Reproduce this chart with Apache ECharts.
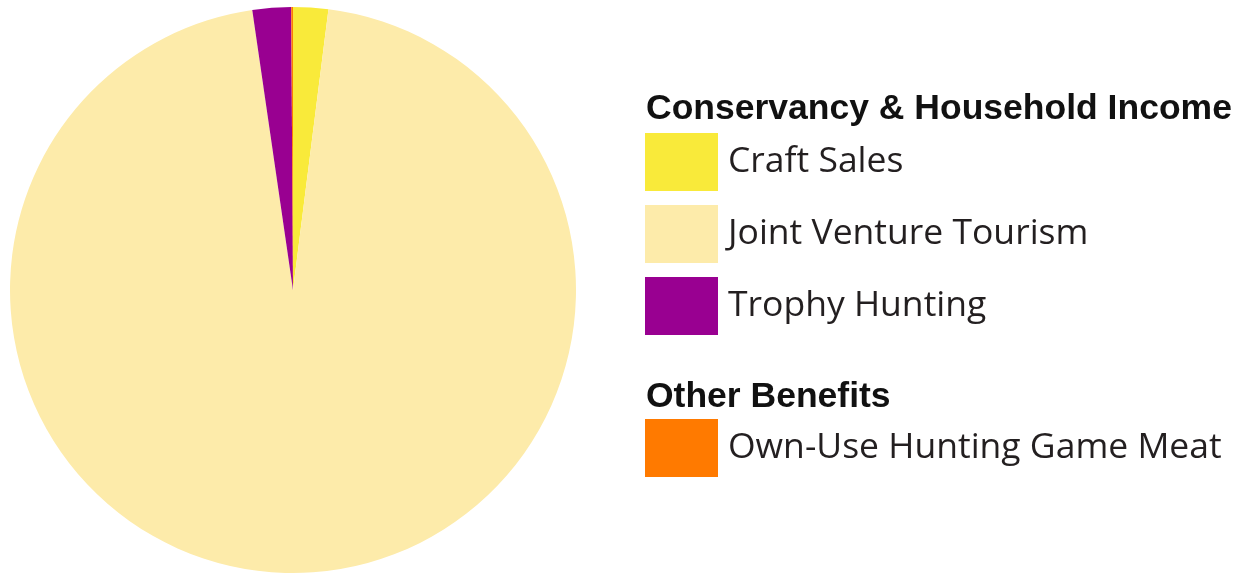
<!DOCTYPE html>
<html>
<head>
<meta charset="utf-8">
<script src="https://cdn.jsdelivr.net/npm/echarts@6/dist/echarts.min.js"></script>
<style>
html,body{margin:0;padding:0;background:#fff;}
#chart{width:1245px;height:575px;}
</style>
</head>
<body>
<div id="chart"></div>
<script>
const categories = ['Craft Sales', 'Joint Venture Tourism', 'Trophy Hunting', 'Own-Use Hunting Game Meat'];
const values = [2.0, 95.7, 2.2, 0.1];
const colors = ['#F9EA3A', '#FDEBAA', '#990091', '#FF7A00'];
const groupTitles = ['Conservancy & Household Income', 'Other Benefits'];
const group1 = ['Craft Sales', 'Joint Venture Tourism', 'Trophy Hunting'];
const group2 = ['Own-Use Hunting Game Meat'];

const chart = echarts.init(document.getElementById('chart'), null, {renderer: 'canvas'});
const legendText = {fontFamily: 'Open Sans', fontSize: 35.5, color: '#231f20', padding: [8, 0, 0, 5]};
const titleText = {fontFamily: 'Liberation Sans', fontWeight: 'bold', fontSize: 35.5, lineHeight: 36, color: '#111'};
chart.setOption({
  backgroundColor: '#ffffff',
  animation: false,
  title: [
    {text: groupTitles[0], left: 646, top: 91, padding: 0, textStyle: titleText},
    {text: groupTitles[1], left: 646, top: 379, padding: 0, textStyle: titleText}
  ],
  legend: [
    {data: group1, orient: 'vertical', left: 645, top: 133, padding: 0,
     itemWidth: 73, itemHeight: 58, itemGap: 14, icon: 'rect', selectedMode: false,
     textStyle: legendText},
    {data: group2, orient: 'vertical', left: 645, top: 419, padding: 0,
     itemWidth: 73, itemHeight: 58, itemGap: 14, icon: 'rect', selectedMode: false,
     textStyle: legendText}
  ],
  series: [{
    type: 'pie',
    center: [293, 290],
    radius: 283,
    startAngle: 90,
    clockwise: true,
    label: {show: false},
    labelLine: {show: false},
    emphasis: {disabled: true},
    itemStyle: {borderWidth: 0},
    data: categories.map((c, i) => ({name: c, value: values[i], itemStyle: {color: colors[i]}}))
  }]
});
</script>
</body>
</html>
